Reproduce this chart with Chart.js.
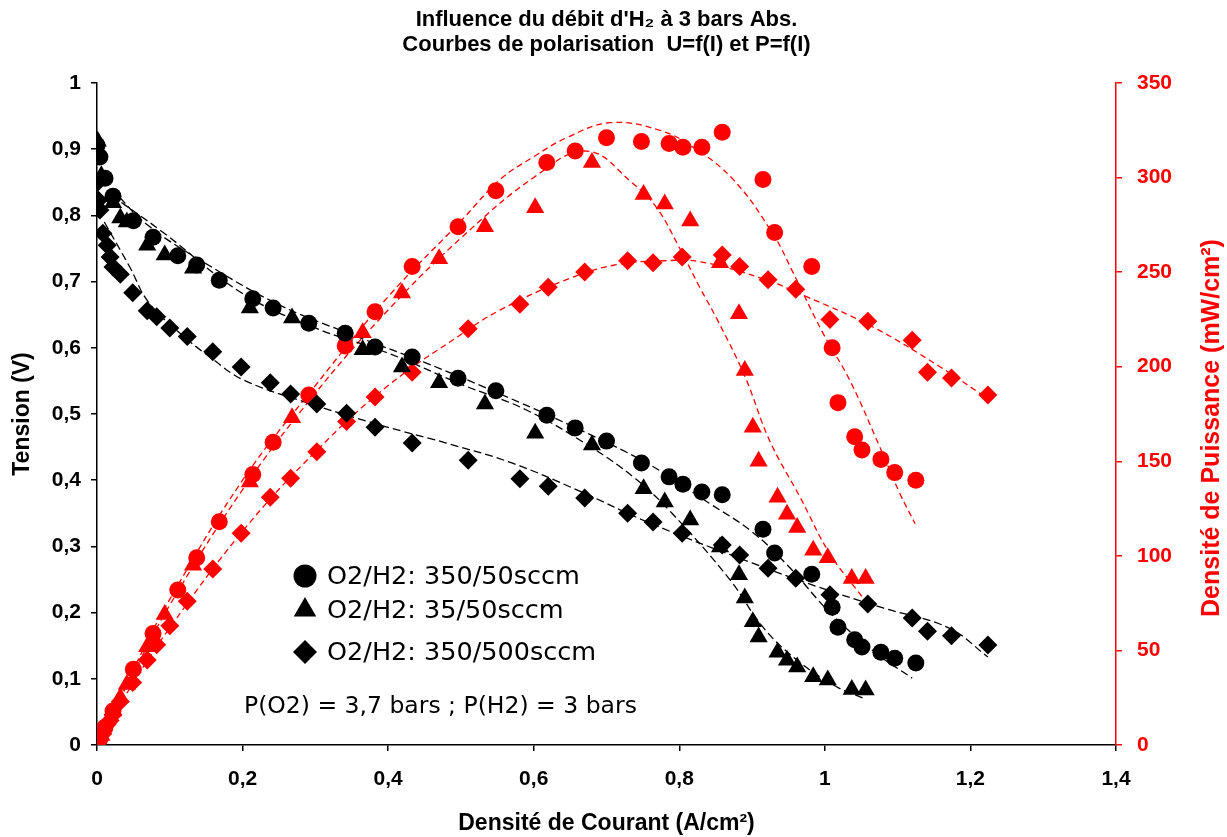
<!DOCTYPE html>
<html lang="fr">
<head>
<meta charset="UTF-8">
<title>Influence du débit d'H2 - Courbes de polarisation</title>
<script src="https://cdn.jsdelivr.net/npm/chart.js@4.4.0/dist/chart.umd.min.js"></script>
<style>
  html, body { margin: 0; padding: 0; background: #fff; }
  canvas { display: block; }
</style>
</head>
<body>
<canvas id="chart" width="1227" height="837"></canvas>
<script>
// --- mesures : O2/H2 350/50 sccm (ronds)
const circI = [0, 0.004, 0.011, 0.022, 0.05, 0.077, 0.111, 0.137, 0.168, 0.214, 0.242, 0.291, 0.341, 0.382, 0.433, 0.496, 0.548, 0.618, 0.657, 0.700, 0.748, 0.786, 0.805, 0.831, 0.859, 0.915, 0.931, 0.982, 1.010, 1.018, 1.041, 1.051, 1.077, 1.096, 1.125];
const circU = [0.906, 0.888, 0.856, 0.829, 0.792, 0.767, 0.739, 0.725, 0.702, 0.674, 0.660, 0.637, 0.622, 0.601, 0.586, 0.554, 0.535, 0.498, 0.479, 0.459, 0.426, 0.405, 0.394, 0.382, 0.378, 0.326, 0.290, 0.258, 0.208, 0.178, 0.159, 0.148, 0.140, 0.131, 0.124];
const circP = [0, 3.6, 9.4, 18, 40, 59, 82, 99, 118, 143, 160, 185, 211, 229, 253, 274, 293, 308, 314, 321, 319, 318, 316, 316, 324, 299, 271, 253, 210, 181, 163, 156, 151, 144, 140];

// --- O2/H2 35/50 sccm (triangles)
const triI = [0.001, 0.006, 0.022, 0.032, 0.041, 0.069, 0.093, 0.132, 0.210, 0.268, 0.365, 0.419, 0.470, 0.533, 0.602, 0.680, 0.751, 0.780, 0.815, 0.856, 0.882, 0.890, 0.901, 0.909, 0.935, 0.948, 0.962, 0.984, 1.004, 1.037, 1.056];
const triU = [0.912, 0.86, 0.819, 0.796, 0.790, 0.755, 0.740, 0.720, 0.660, 0.645, 0.597, 0.571, 0.547, 0.515, 0.471, 0.453, 0.387, 0.367, 0.340, 0.299, 0.257, 0.222, 0.186, 0.163, 0.140, 0.128, 0.118, 0.103, 0.098, 0.084, 0.083];
const triP = [1, 5, 18, 25, 32, 52, 69, 95, 139, 173, 218, 239, 257, 274, 284, 308, 291, 286, 277, 255, 228, 198, 168, 150, 131, 122, 115, 103, 99, 88, 88];

// --- O2/H2 350/500 sccm (losanges)
const diaI = [0, 0.001, 0.002, 0.004, 0.008, 0.014, 0.018, 0.022, 0.032, 0.049, 0.069, 0.082, 0.100, 0.124, 0.159, 0.198, 0.238, 0.266, 0.302, 0.343, 0.382, 0.433, 0.510, 0.581, 0.620, 0.670, 0.729, 0.764, 0.804, 0.859, 0.883, 0.922, 0.960, 1.007, 1.059, 1.120, 1.141, 1.174, 1.224];
const diaU = [0.89, 0.85, 0.823, 0.808, 0.773, 0.755, 0.737, 0.722, 0.711, 0.683, 0.656, 0.647, 0.630, 0.617, 0.594, 0.571, 0.547, 0.530, 0.515, 0.501, 0.480, 0.456, 0.430, 0.402, 0.391, 0.373, 0.350, 0.337, 0.320, 0.302, 0.287, 0.267, 0.252, 0.227, 0.213, 0.192, 0.172, 0.165, 0.151];
const diaP = [0, 1, 2, 3, 6, 11, 13, 16, 23, 33, 45, 53, 63, 76, 93, 112, 131, 141, 155, 171, 184, 197, 220, 233, 242, 250, 256, 255, 258, 259, 253, 246, 241, 225, 224, 214, 197, 194, 185];

// --- courbes de tendance (pointillés)
const circFitI = [0.02, 0.07, 0.15, 0.25, 0.35, 0.45, 0.55, 0.65, 0.76, 0.84, 0.9, 0.95, 1.007, 1.07, 1.12];
const circFitU = [0.84, 0.785, 0.727, 0.665, 0.62, 0.578, 0.532, 0.483, 0.423, 0.366, 0.322, 0.27, 0.2, 0.139, 0.101];
const triFitI = [0.02, 0.09, 0.2, 0.3, 0.4, 0.5, 0.59, 0.68, 0.74, 0.79, 0.87, 0.915, 0.962, 1.016, 1.052];
const triFitU = [0.83, 0.775, 0.682, 0.63, 0.592, 0.545, 0.506, 0.449, 0.402, 0.35, 0.249, 0.178, 0.128, 0.088, 0.071];
const diaFitI = [0.01, 0.045, 0.07, 0.114, 0.16, 0.2, 0.28, 0.39, 0.48, 0.57, 0.66, 0.76, 0.9, 0.99, 1.08, 1.17, 1.224];
const diaFitU = [0.79, 0.722, 0.67, 0.622, 0.582, 0.552, 0.52, 0.483, 0.456, 0.426, 0.385, 0.335, 0.275, 0.239, 0.207, 0.177, 0.133];

const circFitPI = [0, 0.05, 0.1, 0.2, 0.3, 0.4, 0.5, 0.554, 0.6, 0.645, 0.705, 0.773, 0.819, 0.874, 0.929, 0.956, 0.997, 1.034, 1.075, 1.103, 1.124];
const circFitP = [0, 40, 77, 140, 190, 237, 277, 299, 311, 321, 329, 325, 316, 299, 270, 250, 218, 193, 158, 133, 117];
const triFitPI = [0, 0.05, 0.1, 0.2, 0.3, 0.4, 0.5, 0.6, 0.673, 0.736, 0.769, 0.8, 0.828, 0.852, 0.89, 0.924, 0.966, 1.007, 1.052];
const triFitP = [0, 38, 74, 135, 186, 230, 268, 300, 314, 297, 284, 263, 242, 225, 195, 161, 131, 101, 78];
const diaFitPI = [0, 0.05, 0.1, 0.2, 0.3, 0.4, 0.5, 0.554, 0.645, 0.714, 0.78, 0.828, 0.911, 0.975, 1.066, 1.158, 1.224];
const diaFitP = [0, 33, 62, 113, 155, 190, 217, 230, 246, 254, 256, 255.5, 247, 237, 221, 200, 183];

const seriesLabels = ["O2/H2: 350/50sccm", "O2/H2: 35/50sccm", "O2/H2: 350/500sccm"];
const noteText = "P(O2) = 3,7 bars ; P(H2) = 3 bars";

const BLACK = "#000000";
const RED = "#ff0000";

const toPts = (xs, ys) => xs.map((x, i) => ({ x: x, y: ys[i] }));
const comma = v => String(Math.round(v * 10) / 10).replace(".", ",");

function markers(label, xs, ys, style, radius, color, axis) {
  return {
    label: label, data: toPts(xs, ys), yAxisID: axis, order: 1,
    pointStyle: style, pointRadius: radius, pointHoverRadius: radius,
    pointBackgroundColor: color, pointBorderColor: color, pointBorderWidth: 0,
    showLine: false
  };
}

function trend(xs, ys, color, axis) {
  return {
    data: toPts(xs, ys), yAxisID: axis, order: 2,
    showLine: true, pointRadius: 0, borderColor: color, borderWidth: 1.3,
    borderDash: color === BLACK ? [8, 4] : [6, 4], tension: 0.4, fill: false
  };
}

// legend + note + right axis title drawn in the plot
const extras = {
  id: "extras",
  afterDraw(chart) {
    const ctx = chart.ctx;
    const styles = [["circle", 11.5], ["triangle", 13], ["rectRot", 12]];
    const rowsY = [576, 610, 652];
    ctx.save();
    ctx.fillStyle = BLACK;
    styles.forEach((s, i) => {
      Chart.helpers.drawPoint(ctx, { pointStyle: s[0], radius: s[1], rotation: 0, borderWidth: 0 }, 305, rowsY[i]);
    });
    ctx.font = "25.5px 'DejaVu Sans'";
    ctx.textBaseline = "middle";
    ctx.textAlign = "left";
    seriesLabels.forEach((t, i) => ctx.fillText(t, 327, rowsY[i] + 1));
    ctx.font = "23.5px 'DejaVu Sans'";
    ctx.fillText(noteText, 244, 707);

    ctx.translate(1212, 428);
    ctx.rotate(-Math.PI / 2);
    ctx.textAlign = "center";
    ctx.fillStyle = RED;
    ctx.font = "bold 25px 'Liberation Sans'";
    ctx.fillText("Densité de Puissance (mW/cm²)", 0, 0);
    ctx.restore();
  }
};

const tickFont = { family: "'Liberation Sans', Arial", size: 21, weight: "bold" };
const titleFont = { family: "'Liberation Sans', Arial", size: 23, weight: "bold" };

new Chart(document.getElementById("chart"), {
  type: "scatter",
  data: {
    datasets: [
      markers(seriesLabels[0], circI, circU, "circle", 8.5, BLACK, "y"),
      markers(seriesLabels[1], triI, triU, "triangle", 10.5, BLACK, "y"),
      markers(seriesLabels[2], diaI, diaU, "rectRot", 9.5, BLACK, "y"),
      markers("P " + seriesLabels[0], circI, circP, "circle", 8.5, RED, "y2"),
      markers("P " + seriesLabels[1], triI, triP, "triangle", 10.5, RED, "y2"),
      markers("P " + seriesLabels[2], diaI, diaP, "rectRot", 9.5, RED, "y2"),
      trend(circFitI, circFitU, BLACK, "y"),
      trend(triFitI, triFitU, BLACK, "y"),
      trend(diaFitI, diaFitU, BLACK, "y"),
      trend(circFitPI, circFitP, RED, "y2"),
      trend(triFitPI, triFitP, RED, "y2"),
      trend(diaFitPI, diaFitP, RED, "y2")
    ]
  },
  options: {
    responsive: false,
    animation: false,
    layout: { padding: 0 },
    plugins: {
      legend: { display: false },
      tooltip: { enabled: false },
      title: {
        display: true,
        fullSize: false,
        text: ["Influence du débit d'H₂ à 3 bars Abs.", "Courbes de polarisation  U=f(I) et P=f(I)"],
        color: BLACK,
        font: { family: "'Liberation Sans', Arial", size: 22, weight: "bold", lineHeight: 1.14 },
        padding: { top: 7, bottom: 25.8 }
      }
    },
    scales: {
      x: {
        type: "linear", min: 0, max: 1.4,
        afterFit: s => { s.height = 92; },
        ticks: { stepSize: 0.2, autoSkip: false, maxRotation: 0, color: BLACK, font: tickFont, padding: 16, callback: v => comma(v) },
        grid: { drawOnChartArea: false, tickLength: 6, color: BLACK, lineWidth: 1.5 },
        border: { color: BLACK, width: 1.5 },
        title: { display: true, text: "Densité de Courant (A/cm²)", color: BLACK, font: titleFont, padding: { top: 0, bottom: 0 } }
      },
      y: {
        position: "left", min: 0, max: 1,
        afterFit: s => { s.width = 97; },
        ticks: { stepSize: 0.1, color: BLACK, font: tickFont, padding: 10, callback: v => comma(v) },
        grid: { drawOnChartArea: false, tickLength: 6, color: BLACK, lineWidth: 1.5 },
        border: { color: BLACK, width: 1.5 },
        title: { display: true, text: "Tension (V)", color: BLACK, font: titleFont, padding: { top: 9, bottom: 0 } }
      },
      y2: {
        position: "right", min: 0, max: 350,
        afterFit: s => { s.width = 111; },
        ticks: { stepSize: 50, color: RED, font: tickFont, padding: 15 },
        grid: { drawOnChartArea: false, tickLength: 6, color: RED, lineWidth: 1.5 },
        border: { color: RED, width: 1.5 }
      }
    }
  },
  plugins: [extras]
});
</script>
</body>
</html>
